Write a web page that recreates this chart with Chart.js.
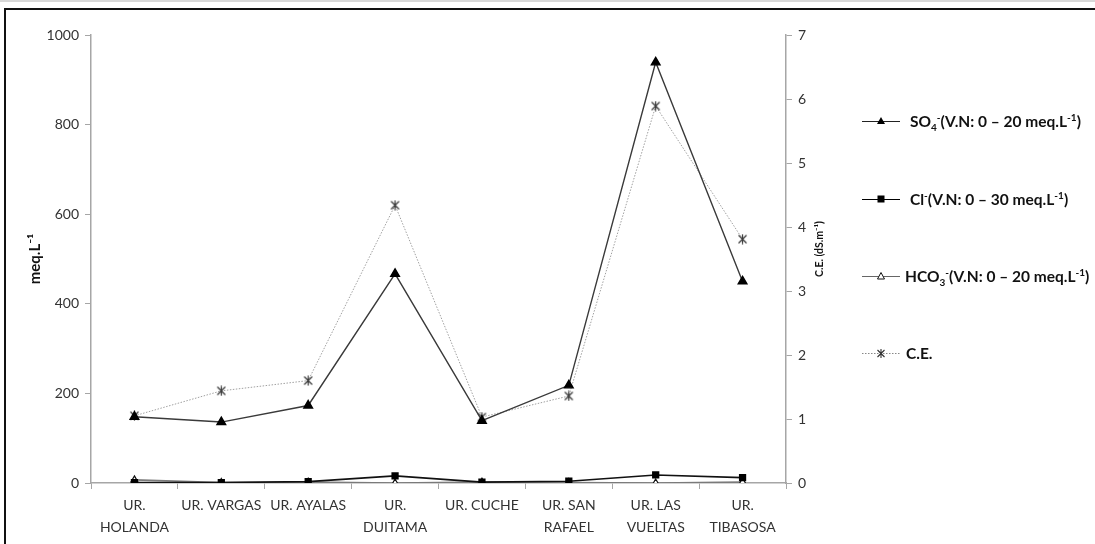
<!DOCTYPE html>
<html>
<head>
<meta charset="utf-8">
<script src="https://cdn.jsdelivr.net/npm/chart.js@4/dist/chart.umd.min.js"></script>
<style>
  html, body { margin: 0; padding: 0; background: #fff; overflow: hidden; }
  #wrap { position: relative; width: 1095px; height: 544px; }
  #frame { position: absolute; left: 4px; top: 8px; width: 1200px; height: 700px;
           border: 2px solid #111; box-sizing: border-box; }
  #topline { position: absolute; left: 0; top: 0; width: 1095px; height: 2px; background: #d8d8d8; }
  canvas { position: absolute; left: 0; top: 0; }
  .leg { position: absolute; font-family: Lato, "Noto Sans", sans-serif; font-weight: bold;
         font-size: 15.5px; color: #111; white-space: nowrap; line-height: 16px; }
  .leg svg { position: absolute; top: 0; }
  .leg span.t { position: absolute; top: 0; }
  .leg sub, .leg sup { font-size: 10px; line-height: 0; }
</style>
</head>
<body>
<div id="wrap">
  <div id="topline"></div>
  <div id="frame"></div>
  <canvas id="c" width="1095" height="544"></canvas>
  <div id="legend"></div>
</div>
<script>
// Sampling sites
const categories = [["UR.", "HOLANDA"], "UR. VARGAS", "UR. AYALAS", ["UR.", "DUITAMA"],
                    "UR. CUCHE", ["UR. SAN", "RAFAEL"], ["UR. LAS", "VUELTAS"], ["UR.", "TIBASOSA"]];

// Anions, meq.L-1 (left axis)
const so4  = [148, 136, 173, 467, 139, 218, 939, 450];
const cl   = [1, 1, 3, 16, 2, 4, 18, 12];
const hco3 = [7, 1, 2, 0, 2, 1, 0, 2];

// Electrical conductivity, dS.m-1 (right axis)
const ce = [1.05, 1.44, 1.60, 4.34, 1.03, 1.36, 5.89, 3.81];

// Axis ranges
const leftTicks  = { min: 0, max: 1000, step: 200 };
const rightTicks = { min: 0, max: 7, step: 1 };

const FONT = 'Lato, "Noto Sans", sans-serif';
const AXIS_GRAY = '#a6a6a6';

// asterisk marker: an x with a vertical stroke
function asteriskMarker(size, color) {
  const cv = document.createElement('canvas');
  cv.width = size; cv.height = size;
  const g = cv.getContext('2d');
  g.strokeStyle = color; g.lineWidth = 1.2;
  const m = 1.5, s = size - 1.5;
  g.beginPath();
  g.moveTo(m, m); g.lineTo(s, s);
  g.moveTo(s, m); g.lineTo(m, s);
  g.moveTo(size / 2, 0.5); g.lineTo(size / 2, size - 0.5);
  g.stroke();
  return cv;
}
const starImg = asteriskMarker(11, '#3a3a3a');

// rotated title for the right axis (reads bottom to top)
const rightTitle = {
  id: 'rightTitle',
  afterDraw(chart) {
    const s = chart.scales.y2;
    const ctx = chart.ctx;
    ctx.save();
    ctx.translate(s.left + 34, 249);
    ctx.rotate(-Math.PI / 2);
    ctx.font = 'bold 10.5px ' + FONT;
    ctx.fillStyle = '#111';
    ctx.textAlign = 'center';
    ctx.textBaseline = 'middle';
    ctx.fillText('C.E. (dS.m\u207B\u00B9)', 0, 0);
    ctx.restore();
  }
};

new Chart(document.getElementById('c'), {
  type: 'line',
  data: {
    labels: categories,
    datasets: [
      {
        label: 'C.E.', data: ce, yAxisID: 'y2', order: 4,
        borderColor: '#a0a0a0', borderWidth: 1, borderDash: [1.5, 1.5],
        pointStyle: starImg, pointRadius: 5, tension: 0
      },
      {
        label: 'HCO3', data: hco3, yAxisID: 'y', order: 3,
        borderColor: '#7a7a7a', borderWidth: 1.6,
        pointStyle: 'triangle', pointRadius: 4, pointBackgroundColor: '#fff',
        pointBorderColor: '#111', pointBorderWidth: 1.2, tension: 0
      },
      {
        label: 'Cl', data: cl, yAxisID: 'y', order: 2,
        borderColor: '#111', borderWidth: 1.6,
        pointStyle: 'rect', pointRadius: 4, pointBackgroundColor: '#000',
        pointBorderColor: '#000', tension: 0
      },
      {
        label: 'SO4', data: so4, yAxisID: 'y', order: 1,
        borderColor: '#3a3a3a', borderWidth: 1.4,
        pointStyle: 'triangle', pointRadius: 5, pointBackgroundColor: '#000',
        pointBorderColor: '#000', tension: 0
      }
    ]
  },
  options: {
    responsive: false,
    animation: false,
    layout: { padding: { left: 0, right: 249, top: 35, bottom: 0 } },
    plugins: { legend: { display: false }, tooltip: { enabled: false } },
    scales: {
      x: {
        type: 'category', offset: true,
        grid: { offset: true, drawOnChartArea: false, tickLength: 6, color: AXIS_GRAY, lineWidth: 1 },
        border: { color: AXIS_GRAY, width: 1.5 },
        ticks: { autoSkip: false, maxRotation: 0, minRotation: 0, padding: 6,
                 color: '#333', font: { family: FONT, size: 14, lineHeight: 1.55 } },
        afterFit(s) { s.height = 61; }
      },
      y: {
        position: 'left', min: leftTicks.min, max: leftTicks.max,
        ticks: { stepSize: leftTicks.step, padding: 6, color: '#333', font: { family: FONT, size: 14 },
                 callback: v => String(v) },
        grid: { drawOnChartArea: false, tickLength: 6, color: AXIS_GRAY },
        border: { color: AXIS_GRAY, width: 1.5 },
        title: { display: true, text: 'meq.L\u207B\u00B9', color: '#111',
                 font: { family: FONT, size: 15, weight: 'bold' }, padding: { top: 26, bottom: 0 } },
        afterFit(s) { s.width = 91; }
      },
      y2: {
        position: 'right', min: rightTicks.min, max: rightTicks.max,
        ticks: { stepSize: rightTicks.step, padding: 6, color: '#333', font: { family: FONT, size: 14 },
                 callback: v => String(v) },
        grid: { drawOnChartArea: false, tickLength: 6, color: AXIS_GRAY },
        border: { color: AXIS_GRAY, width: 1.5 },
        afterFit(s) { s.width = 60; }
      }
    }
  },
  plugins: [rightTitle]
});

// legend at the right, one entry per series
const legendItems = [
  { y: 113, html: 'SO<sub>4</sub><sup>-</sup>(V.N: 0 \u2013 20 meq.L<sup>-1</sup>)', tx: 910,
    line: '#222', dash: '', mark: 'triFill' },
  { y: 191, html: 'Cl<sup>-</sup>(V.N: 0 \u2013 30 meq.L<sup>-1</sup>)', tx: 910,
    line: '#000', dash: '', mark: 'square' },
  { y: 268, html: 'HCO<sub>3</sub><sup>-</sup>(V.N: 0 \u2013 20 meq.L<sup>-1</sup>)', tx: 905,
    line: '#666', dash: '', mark: 'triOpen' },
  { y: 345, html: 'C.E.', tx: 906, line: '#888', dash: '1.5 1.5', mark: 'star' }
];
const legend = document.getElementById('legend');
legendItems.forEach(it => {
  const d = document.createElement('div');
  d.className = 'leg';
  d.style.left = '860px';
  d.style.top = it.y + 'px';
  let mark = '';
  if (it.mark === 'triFill') mark = '<polygon points="21,4 25,11 17,11" fill="#000"/>';
  if (it.mark === 'square') mark = '<rect x="17.5" y="4.5" width="7" height="7" fill="#000"/>';
  if (it.mark === 'triOpen') mark = '<polygon points="21,4.5 24.5,11 17.5,11" fill="#fff" stroke="#111" stroke-width="1"/>';
  if (it.mark === 'star') mark = '<path d="M17.5,5 L24.5,12 M24.5,5 L17.5,12 M21,4 L21,13" stroke="#333" stroke-width="1.1"/>';
  d.innerHTML =
    '<svg width="42" height="16" style="left:0">' +
    '<line x1="2" y1="8.5" x2="40" y2="8.5" stroke="' + it.line + '" stroke-width="1.2"' +
    (it.dash ? ' stroke-dasharray="' + it.dash + '"' : '') + '/>' + mark + '</svg>' +
    '<span class="t" style="left:' + (it.tx - 860) + 'px">' + it.html + '</span>';
  legend.appendChild(d);
});
</script>
</body>
</html>
